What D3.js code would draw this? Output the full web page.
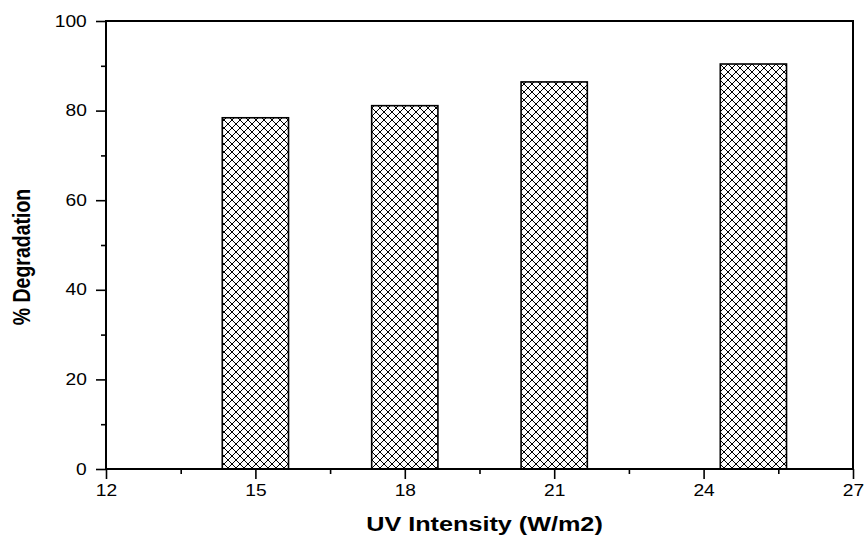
<!DOCTYPE html>
<html>
<head>
<meta charset="utf-8">
<script src="https://cdn.jsdelivr.net/npm/d3@7"></script>
<style>
    body { margin: 0; background: #fff; }
    svg { display: block; }
    .tick text { font-family: "Liberation Sans", Arial, sans-serif; font-size: 16px; fill: #000; }
    .axis-title { font-family: "Liberation Sans", Arial, sans-serif; font-weight: bold; fill: #000; }
</style>
</head>
<body>
<div id="chart"></div>
<script>
// datos del grafico
const uvIntensity = [15, 18, 21, 25];
const degradation = [78.4, 81.1, 86.4, 90.4];
const xTicks = [12, 15, 18, 21, 24, 27];
const yTicks = [0, 20, 40, 60, 80, 100];

const width = 867, height = 536;
const plotLeft = 106, plotRight = 853, plotTop = 21, plotBottom = 469;
const barWidth = 1.33; // en unidades de x
const stretch = 1.2;   // la imagen original esta estirada a lo ancho

const svg = d3.select("#chart").append("svg")
    .attr("width", width)
    .attr("height", height);

// patron de rayado cruzado
const defs = svg.append("defs");
const pat = defs.append("pattern")
    .attr("id", "cross")
    .attr("patternUnits", "userSpaceOnUse")
    .attr("width", 8)
    .attr("height", 8);
pat.append("rect").attr("width", 8).attr("height", 8).attr("fill", "#fff");
pat.append("path")
    .attr("d", "M0,0 L8,8 M8,0 L0,8 M-1,7 L1,9 M7,-1 L9,1 M-1,1 L1,-1 M7,9 L9,7")
    .attr("stroke", "#000")
    .attr("stroke-width", 1);

const x = d3.scaleLinear().domain([12, 27]).range([plotLeft, plotRight]);
const y = d3.scaleLinear().domain([0, 100]).range([plotBottom, plotTop]);

// barras
svg.selectAll(".bar")
    .data(uvIntensity)
    .enter().append("rect")
    .attr("class", "bar")
    .attr("x", function (d) { return x(d - barWidth / 2); })
    .attr("width", function (d) { return x(d + barWidth / 2) - x(d - barWidth / 2); })
    .attr("y", function (d, i) { return y(degradation[i]); })
    .attr("height", function (d, i) { return y(0) - y(degradation[i]); })
    .attr("fill", "url(#cross)")
    .attr("stroke", "#000")
    .attr("stroke-width", 1.6);

// ticks menores
const xMinor = d3.range(13.5, 27, 3);
const yMinor = d3.range(10, 100, 20);

svg.append("g")
    .attr("transform", "translate(0," + plotBottom + ")")
    .call(d3.axisBottom(x).tickValues(xMinor).tickSize(5).tickFormat(""))
    .call(function (g) { g.select(".domain").remove(); })
    .selectAll("line").attr("stroke-width", 1.6);

svg.append("g")
    .attr("transform", "translate(" + plotLeft + ",0)")
    .call(d3.axisLeft(y).tickValues(yMinor).tickSize(5).tickFormat(""))
    .call(function (g) { g.select(".domain").remove(); })
    .selectAll("line").attr("stroke-width", 1.6);

// ejes principales
const xAxis = svg.append("g")
    .attr("transform", "translate(0," + plotBottom + ")")
    .call(d3.axisBottom(x).tickValues(xTicks).tickSize(10).tickPadding(6).tickSizeOuter(0));
xAxis.select(".domain").remove();
xAxis.selectAll("line").attr("stroke-width", 1.6);
xAxis.selectAll("text").attr("transform", "scale(" + stretch + ",1)");

const yAxis = svg.append("g")
    .attr("transform", "translate(" + plotLeft + ",0)")
    .call(d3.axisLeft(y).tickValues(yTicks).tickSize(10).tickPadding(6).tickSizeOuter(0));
yAxis.select(".domain").remove();
yAxis.selectAll("line").attr("stroke-width", 1.6);
yAxis.selectAll("text").attr("transform", "scale(" + stretch + ",1)");

// marco
svg.append("rect")
    .attr("x", plotLeft)
    .attr("y", plotTop)
    .attr("width", plotRight - plotLeft)
    .attr("height", plotBottom - plotTop)
    .attr("fill", "none")
    .attr("stroke", "#000")
    .attr("stroke-width", 2);

// titulos
svg.append("text")
    .attr("class", "axis-title")
    .attr("text-anchor", "middle")
    .attr("transform", "translate(" + ((plotLeft + plotRight) / 2 + 5) + ",531) scale(" + stretch + ",1)")
    .style("font-size", "21px")
    .text("UV Intensity (W/m2)");

svg.append("text")
    .attr("class", "axis-title")
    .attr("text-anchor", "middle")
    .attr("transform", "translate(30,257) scale(" + stretch + ",1) rotate(-90)")
    .style("font-size", "19.5px")
    .text("% Degradation");
</script>
</body>
</html>
